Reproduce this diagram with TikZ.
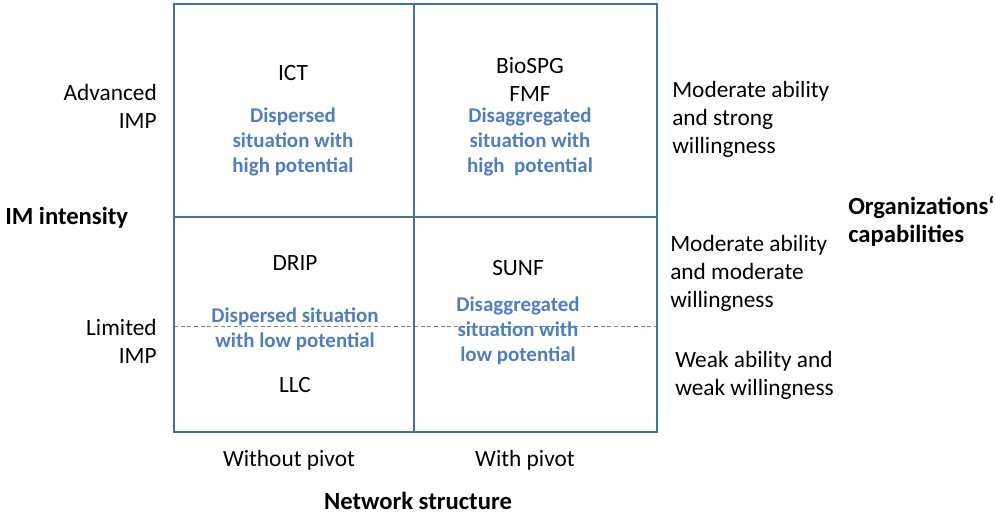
\documentclass[tikz,border=0pt]{standalone}
\usepackage{fontspec}
\setmainfont{Carlito}
\definecolor{gridblue}{HTML}{41719C}
\definecolor{quadblue}{HTML}{4F7DBF}
\begin{document}
\begin{tikzpicture}[x=0.75pt,y=-0.75pt,
  lbl/.style={inner sep=0pt,text=black,font=\fontsize{17.5}{21}\selectfont},
  axis/.style={inner sep=0pt,text=black,font=\bfseries\fontsize{18.5}{21}\selectfont},
  quad/.style={inner sep=0pt,text=quadblue,align=center,font=\bfseries\fontsize{15.7}{18.8}\selectfont},
  gridline/.style={draw=gridblue,line width=2.2pt},
  splitline/.style={draw=gray,line width=0.5pt,densely dashed}]
\useasboundingbox (0,0) rectangle (995,515);

% dashed split between limited and advanced levels
\draw[splitline] (174,326) -- (657,326);

% 2x2 matrix
\draw[gridline] (174,4) rectangle (657,432);
\draw[gridline] (414,4) -- (414,432);
\draw[gridline] (174,217) -- (657,217);

% quadrant contents
\node[lbl] (ict) at (293,73) {ICT};
\node[quad] (q1) at (293,142) {Dispersed\\situation with\\high potential};

\node[lbl,align=center] (bio) at (530,79) {BioSPG\\FMF};
\node[quad] (q2) at (530,142) {Disaggregated\\situation with\\high\ \ potential};

\node[lbl] (drip) at (295,263) {DRIP};
\node[quad] (q3) at (295,329) {Dispersed situation\\with low potential};
\node[lbl] (llc) at (295,385) {LLC};

\node[lbl] (sunf) at (518,268) {SUNF};
\node[quad] (q4) at (518,331) {Disaggregated\\situation with\\low potential};

% vertical axis
\node[lbl,align=right,anchor=east] (adv) at (157,106) {Advanced\\IMP};
\node[lbl,align=right,anchor=east] (lim) at (157,341) {Limited\\IMP};
\node[axis,anchor=west] (imi) at (5,218) {IM intensity};

% horizontal axis
\node[lbl] (wo) at (289,460) {Without pivot};
\node[lbl] (wp) at (525,460) {With pivot};
\node[axis] (ns) at (418,501) {Network structure};

% capability levels
\node[lbl,align=left,anchor=west] (c1) at (672,119) {Moderate ability\\and strong\\willingness};
\node[lbl,align=left,anchor=west] (c2) at (670,273) {Moderate ability\\and moderate\\willingness};
\node[lbl,align=left,anchor=west] (c3) at (675,375) {Weak ability and\\weak willingness};
\node[axis,align=left,anchor=west] (oc) at (848,221) {Organizations‘\\capabilities};
\end{tikzpicture}
\end{document}
